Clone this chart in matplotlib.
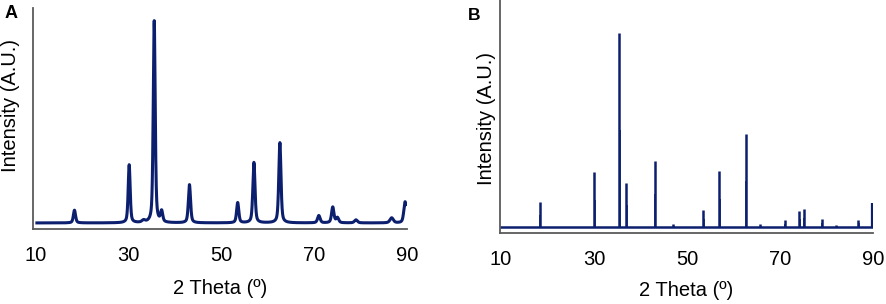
#!/usr/bin/env python3
"""
XRD patterns: measured profile (A) and reference stick pattern (B)
"""
import numpy as np
import matplotlib
matplotlib.use('Agg')
import matplotlib.pyplot as plt

plt.rcParams['font.family'] = ['Liberation Sans', 'DejaVu Sans']

# Panel A: measured peaks (2 theta, relative intensity)
peaks_a = [18.3, 30.1, 33.2, 35.5, 37.1, 43.1, 53.5, 57.0, 62.6, 71.0, 74.0, 75.0, 79.0, 86.7, 89.6]
heights_a = [6.3, 28.7, 1.0, 100.0, 5.3, 18.9, 10.0, 29.9, 39.7, 3.6, 7.8, 2.5, 1.5, 2.5, 10.5]
fwhm_a = [0.55, 0.5, 0.8, 0.5, 0.55, 0.55, 0.55, 0.55, 0.55, 0.65, 0.6, 0.65, 0.75, 0.85, 0.65]

# Panel B: reference stick pattern (2 theta, relative intensity)
peaks_b = [18.3, 30.1, 35.5, 37.0, 43.1, 47.1, 53.5, 57.0, 62.6, 65.8, 71.0, 74.1, 75.1, 79.0, 82.1, 86.8]
heights_b = [12.8, 28.2, 100.0, 22.7, 34.0, 1.4, 8.7, 28.9, 47.7, 1.5, 3.4, 8.2, 9.4, 4.3, 1.2, 3.6]
edge_b = 12.5  # value at the 90 deg end of pattern B

xticks = [10, 30, 50, 70, 90]
line_color = '#0c1f6f'
spine_color = '#5a5a5a'


def profile(x, centers, heights, widths, eta=0.5):
    y = np.zeros_like(x)
    for c, h, w in zip(centers, heights, widths):
        g = np.exp(-4 * np.log(2) * ((x - c) / w) ** 2)
        l = 1.0 / (1 + 4 * ((x - c) / w) ** 2)
        y += h * (eta * l + (1 - eta) * g)
    return y


def style_axes(ax):
    for side in ['top', 'right']:
        ax.spines[side].set_visible(False)
    for side in ['left', 'bottom']:
        ax.spines[side].set_color(spine_color)
        ax.spines[side].set_linewidth(1.3)
    ax.set_yticks([])
    ax.set_xticks(xticks)
    ax.tick_params(axis='x', length=0, labelsize=14.5, pad=12)


fig = plt.figure(figsize=(8.86, 3.04), dpi=100)

# Panel A
ax1 = fig.add_axes([0.0372, 0.2467, 0.4221, 0.727])
x = np.arange(10.2, 89.75, 0.02)
ax1.plot(x, profile(x, peaks_a, heights_a, fwhm_a), color=line_color, linewidth=2.2)
ax1.set_xlim(9.35, 90)
ax1.set_ylim(-3, 106.4)
style_axes(ax1)
ax1.set_xlabel('2 Theta (º)', fontsize=14.5, labelpad=10)
ax1.set_ylabel('Intensity (A.U.)', fontsize=14.5)
ax1.yaxis.set_label_coords(-0.035, 0.557)
fig.text(0.005, 0.985, 'A', fontsize=13, fontweight='bold', va='top', ha='left')

# Panel B
ax2 = fig.add_axes([0.5643, 0.2336, 0.421, 0.7664])
ax2.plot([10, 89.8], [0, 0], color=line_color, linewidth=1.8)
ax2.vlines(peaks_b, 0, heights_b, color=line_color, linewidth=1.8)
ax2.vlines([p + 0.12 for p in peaks_b], 0, [h * 0.5 for h in heights_b],
           color=line_color, linewidth=1.2)
ax2.vlines([89.8], 0, edge_b, color=line_color, linewidth=1.6)
ax2.set_xlim(9.8, 90)
ax2.set_ylim(-3.1, 117)
style_axes(ax2)
ax2.set_xlabel('2 Theta (º)', fontsize=14.5, labelpad=9)
ax2.set_ylabel('Intensity (A.U.)', fontsize=14.5)
ax2.yaxis.set_label_coords(-0.011, 0.49)
fig.text(0.528, 0.975, 'B', fontsize=12.5, fontweight='bold', va='top', ha='left')

fig.savefig('out.png', dpi=100)
plt.close(fig)
